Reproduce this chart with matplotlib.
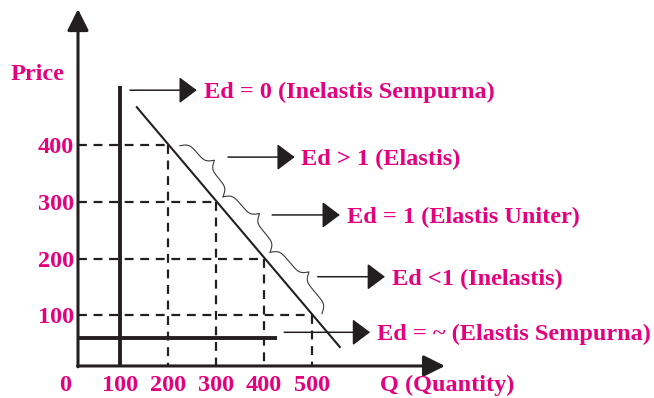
import numpy as np
import matplotlib.pyplot as plt

# tick values on both axes
x_ticks = [100, 200, 300, 400, 500]
y_ticks = [100, 200, 300, 400]

# corner points of the dashed guides (quantity, price)
guide_q = [200, 300, 400, 500]
guide_p = [400, 300, 200, 100]

# demand line end points
demand_q = [135, 558]
demand_p = [467, 44]

# perfectly inelastic (vertical) and perfectly elastic (horizontal) lines
inelastic_q = 100
inelastic_p = [10.6, 504]
elastic_p = 60
elastic_q = [12.5, 427]

# brace segments along the demand line
brace_segments = [(212, 302), (302, 400), (400, 508)]

labels = ["Ed = 0 (Inelastis Sempurna)", "Ed > 1 (Elastis)",
          "Ed = 1 (Elastis Uniter)", "Ed <1 (Inelastis)",
          "Ed = ~ (Elastis Sempurna)"]
label_start = [(121, 497), (325, 379), (417, 277), (512, 168), (442, 70)]
label_end = [(260, 497), (464, 379), (558, 277), (652, 168), (621, 70)]

pink = '#E5007D'
font = dict(family='Liberation Serif', weight='bold', color=pink, fontsize=17.5)

fig = plt.figure(figsize=(6.54, 3.98), dpi=100)
ax = fig.add_axes([0, 0, 1, 1])
ax.set_xlim(-150, 1212.5)
ax.set_ylim(-45.9, 656.1)
ax.axis('off')

x0, y0 = 12.5, 10.6


def arrow(p_from, p_to, lw, size, hw):
    ax.annotate('', xy=p_to, xytext=p_from,
                arrowprops=dict(arrowstyle='-|>,head_length=1.0,head_width=%s' % hw,
                                mutation_scale=size, lw=lw, color='#231f20',
                                shrinkA=0, shrinkB=0))


# axes with arrow heads
arrow((x0, y0 - 1.5), (x0, 640), 2.2, 13, 0.5)
arrow((x0 - 1, y0), (777, y0), 2.2, 13, 0.5)

# dashed guides
for q, p in zip(guide_q, guide_p):
    ax.plot([x0, q], [p, p], color='#231f20', lw=1.6, ls=(0, (4, 3)))
    ax.plot([q, q], [p, y0], color='#231f20', lw=1.6, ls=(0, (4, 3)))

# extreme cases
ax.plot([inelastic_q, inelastic_q], inelastic_p, color='#231f20', lw=2.8,
        solid_capstyle='butt')
ax.plot(elastic_q, [elastic_p, elastic_p], color='#231f20', lw=2.8,
        solid_capstyle='butt')

# demand line
ax.plot(demand_q, demand_p, color='#231f20', lw=1.5)


def demand_at(q):
    return demand_p[0] + (demand_p[1] - demand_p[0]) * (q - demand_q[0]) / (demand_q[1] - demand_q[0])


def brace(q_a, q_b, offset=8, height=17, beta=0.4):
    pa = ax.transData.transform((q_a, demand_at(q_a)))
    pb = ax.transData.transform((q_b, demand_at(q_b)))
    d = pb - pa
    length = np.hypot(*d)
    t = d / length
    nrm = np.array([t[1], -t[0]])
    if nrm[0] < 0:
        nrm = -nrm
    u = np.linspace(0, length, 201)
    half = u[:101]
    yh = 1 / (1 + np.exp(-beta * (half - half[0]))) + 1 / (1 + np.exp(-beta * (half - half[-1])))
    v = np.concatenate([yh, yh[-2::-1]]) - 0.5
    v = v / v.max() * height
    pts = pa[None, :] + u[:, None] * t[None, :] + (offset + v)[:, None] * nrm[None, :]
    data = ax.transData.inverted().transform(pts)
    ax.plot(data[:, 0], data[:, 1], color='#3a3a3a', lw=0.8)


for qa, qb in brace_segments:
    brace(qa, qb)

# annotation arrows and texts
for lab, s, e in zip(labels, label_start, label_end):
    arrow(s, e, 1.1, 11, 0.75)
    ax.text(e[0] + 14, e[1], lab, ha='left', va='center_baseline', **font)

# tick labels
for p in y_ticks:
    ax.text(4, p, str(p), ha='right', va='center_baseline', **font)
ax.text(-15, -19.4, '0', ha='center', va='center_baseline', **font)
for q in x_ticks:
    ax.text(q, -19.4, str(q), ha='center', va='center_baseline', **font)

ax.text(-129, 529, 'Price', ha='left', va='center_baseline', **font)
ax.text(642, -19.4, 'Q (Quantity)', ha='left', va='center_baseline', **font)

fig.savefig('out.png', dpi=100)
